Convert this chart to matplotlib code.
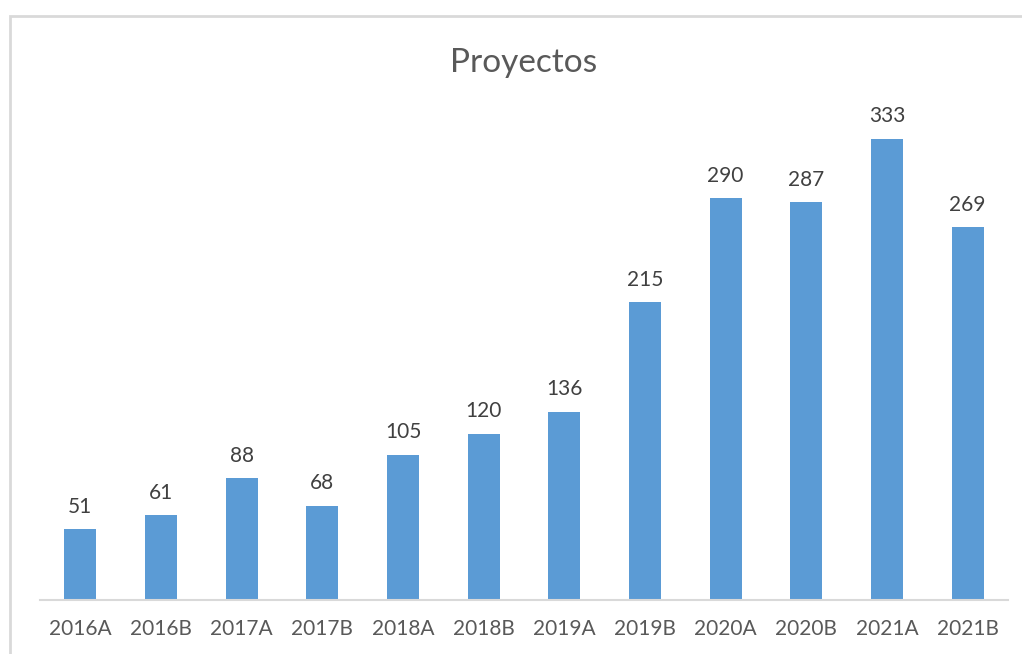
import matplotlib.pyplot as plt
from matplotlib.patches import Rectangle

periods = ["2016A", "2016B", "2017A", "2017B", "2018A", "2018B",
           "2019A", "2019B", "2020A", "2020B", "2021A", "2021B"]
projects = [51, 61, 88, 68, 105, 120, 136, 215, 290, 287, 333, 269]

plt.rcParams['font.family'] = ['Lato', 'DejaVu Sans']

W, H = 1022, 654
fig = plt.figure(figsize=(W / 100, H / 100), dpi=100)
ax = fig.add_axes([40 / W, (H - 600) / H, (1008 - 40) / W, (600 - 115) / H])

x = range(len(periods))
bars = ax.bar(x, projects, width=0.4, color="#5B9BD5")
for rect, v in zip(bars, projects):
    ax.annotate(str(v), (rect.get_x() + rect.get_width() / 2, v),
                xytext=(0, 9), textcoords="offset points",
                ha="center", va="bottom", fontsize=15, color="#404040")

ax.set_xlim(-0.5, len(periods) - 0.5)
ax.set_ylim(0, 350)
ax.set_xticks(list(x))
ax.set_xticklabels(periods, fontsize=15, color="#595959")
ax.tick_params(axis="x", length=0, pad=14)
ax.set_yticks([])
for s in ["top", "right", "left"]:
    ax.spines[s].set_visible(False)
ax.spines["bottom"].set_color("#d9d9d9")
ax.spines["bottom"].set_linewidth(1.5)

fig.text(524 / W, 1 - 63 / H, "Proyectos", ha="center", va="center",
         fontsize=24, color="#595959")

# chart-area border (only top and left edges fall inside the image)
fig.patches.append(Rectangle((10 / W, -0.1), 1.2, 1.1 - 16 / H,
                             transform=fig.transFigure, fill=False,
                             edgecolor="#d9d9d9", linewidth=2, clip_on=False))

fig.savefig("out.png", dpi=100)
